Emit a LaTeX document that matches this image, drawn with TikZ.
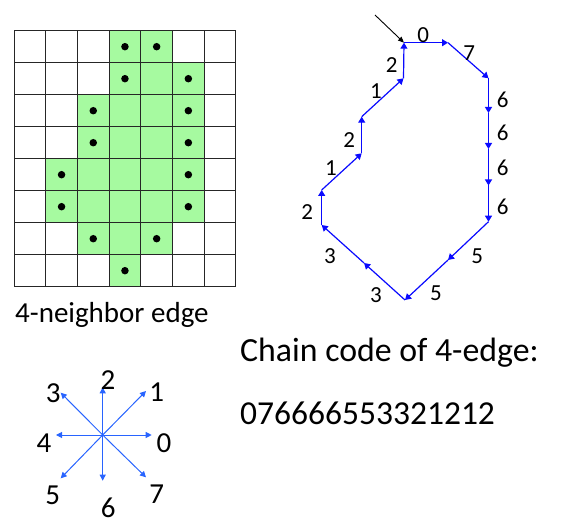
\documentclass[tikz,border=0pt]{standalone}
\usepackage{fontspec}
\setmainfont{Carlito}
\usetikzlibrary{arrows.meta}
\definecolor{cellgreen}{RGB}{166,250,160}
\definecolor{chainblue}{RGB}{10,10,255}
\definecolor{compblue}{RGB}{40,100,255}
\tikzset{
  gridline/.style={draw=black!85,line width=0.9pt},
  pixdot/.style={circle,fill=black,inner sep=0pt,minimum size=7.5pt},
  chainarrow/.style={draw=chainblue,line width=1.2pt,-{Triangle[length=6pt,width=7pt]}},
  compassarrow/.style={draw=compblue,line width=1pt,-{Triangle[length=6pt,width=6pt]}},
  codelabel/.style={font=\fontsize{23}{25}\selectfont,inner sep=0pt},
  complabel/.style={font=\fontsize{29}{31}\selectfont,inner sep=0pt},
}
\begin{document}
\begin{tikzpicture}[x=1pt,y=-1pt]
\useasboundingbox (0,0) rectangle (562,529);
% ---- grid with green cells ----
\def\gx{14}\def\gy{30.7}\def\cw{31.7}\def\ch{32}
\foreach \c/\r in {3/0,4/0, 3/1,4/1,5/1, 2/2,3/2,4/2,5/2, 2/3,3/3,4/3,5/3,
  1/4,2/4,3/4,4/4,5/4, 1/5,2/5,3/5,4/5,5/5, 2/6,3/6,4/6, 3/7}
  \fill[cellgreen] ({\gx+\c*\cw},{\gy+\r*\ch}) rectangle ++(\cw,\ch);
\foreach \i in {0,...,7}
  \draw[gridline] ({\gx+\i*\cw},\gy) -- ({\gx+\i*\cw},{\gy+8*\ch});
\foreach \j in {0,...,8}
  \draw[gridline] (\gx,{\gy+\j*\ch}) -- ({\gx+7*\cw},{\gy+\j*\ch});
\foreach \c/\r [count=\k] in {3/0,4/0, 3/1,5/1, 2/2,5/2, 2/3,5/3, 1/4,5/4, 1/5,5/5, 2/6,4/6, 3/7}
  \node[pixdot] (d\k) at ({\gx+(\c+0.5)*\cw},{\gy+(\r+0.5)*\ch}) {};
\node[font=\fontsize{29}{31}\selectfont,anchor=base west,inner sep=0pt] (cap1) at (15,322.7) {4-neighbor edge};
% ---- chain code polygon ----
\coordinate (p0) at (404,42.7);
\coordinate (p1) at (448,42.7);
\coordinate (p2) at (488.5,78.3);
\coordinate (p3) at (488.5,113);
\coordinate (p4) at (488.5,149);
\coordinate (p5) at (488.5,185.5);
\coordinate (p6) at (488.5,221.7);
\coordinate (p7) at (448,260);
\coordinate (p8) at (405,300);
\coordinate (p9) at (364,263);
\coordinate (p10) at (321.7,225);
\coordinate (p11) at (321.7,190);
\coordinate (p12) at (361.7,153.3);
\coordinate (p13) at (361.7,116.7);
\coordinate (p14) at (403.5,78.3);
\foreach \a/\b in {p0/p1,p1/p2,p2/p3,p3/p4,p4/p5,p5/p6,p6/p7,p7/p8,p8/p9,p9/p10,p10/p11,p11/p12,p12/p13,p13/p14,p14/p0}
  \draw[chainarrow] (\a) -- (\b);
\coordinate (st) at (375,15);
\draw[black,line width=0.9pt,-{Triangle[length=6pt,width=5pt]}] (st) -- (p0);
\foreach \t/\x/\y in {0/423.3/35, 7/469.3/53.3, 6/502.7/100, 6/502.7/133.3, 6/502.7/168.3, 6/502.7/206.7,
  5/477.3/256.7, 5/436/293.3, 3/376/295, 3/330/256, 2/307.3/211.7, 1/331/168.3, 2/349.3/140, 1/376/90.7, 2/391.7/65}
  \node[codelabel] at (\x,\y) {\t};
% ---- text ----
\node[font=\fontsize{33.8}{36}\selectfont,anchor=base west,inner sep=0pt] (cap2) at (240,361.7) {Chain code of 4-edge:};
\node[font=\fontsize{33.5}{36}\selectfont,anchor=base west,inner sep=0pt] (code) at (240,424.3) {076666553321212};
% ---- compass ----
\coordinate (o) at (102.7,435);
\coordinate (c0) at (151.7,435);
\coordinate (c1) at (146,391);
\coordinate (c2) at (102.7,387.3);
\coordinate (c3) at (60.7,392.7);
\coordinate (c4) at (56,435);
\coordinate (c5) at (60.7,478.3);
\coordinate (c6) at (102.7,480.7);
\coordinate (c7) at (146,477.3);
\foreach \k in {0,...,7} \draw[compassarrow] (o) -- (c\k);
\node[complabel] (l0) at (164,443) {0};
\node[complabel] (l1) at (156.7,391.7) {1};
\node[complabel] (l2) at (108,380) {2};
\node[complabel] (l3) at (53.3,392.7) {3};
\node[complabel] (l4) at (44,443) {4};
\node[complabel] (l5) at (52.7,495) {5};
\node[complabel] (l6) at (108.3,508) {6};
\node[complabel] (l7) at (156.7,494) {7};
\end{tikzpicture}
\end{document}
